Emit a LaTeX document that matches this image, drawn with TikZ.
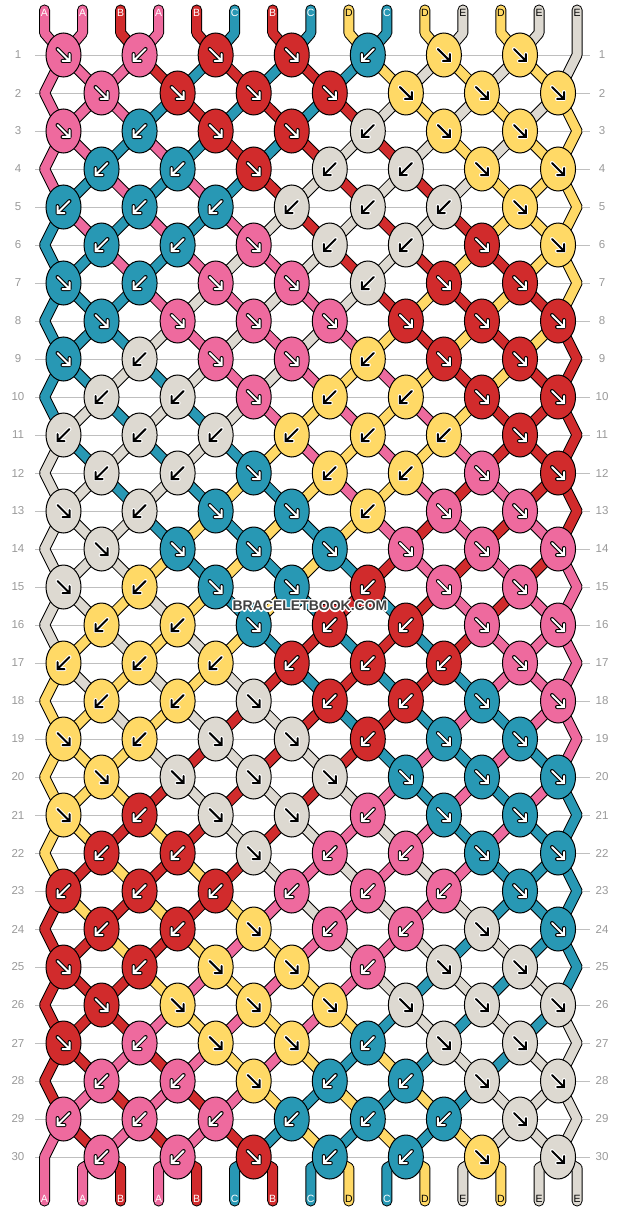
\documentclass[tikz,border=0pt]{standalone}
\usepackage{fontspec}
\setmainfont{Liberation Sans}
\usetikzlibrary{shapes.geometric}

\definecolor{colA}{HTML}{EE6A9E}
\definecolor{colB}{HTML}{D12B2C}
\definecolor{colC}{HTML}{2898B4}
\definecolor{colD}{HTML}{FFD966}
\definecolor{colE}{HTML}{DDD9D1}
\colorlet{arA}{white}
\colorlet{arB}{white}
\colorlet{arC}{white}
\colorlet{arD}{black}
\colorlet{arE}{black}
\colorlet{olA}{black}
\colorlet{olB}{black}
\colorlet{olC}{black}
\colorlet{olD}{white}
\colorlet{olE}{white}
\colorlet{txA}{white}
\colorlet{txB}{white}
\colorlet{txC}{white}
\colorlet{txD}{black}
\colorlet{txE}{black}

\pgfdeclarelayer{grid}
\pgfdeclarelayer{outline}
\pgfdeclarelayer{band}
\pgfsetlayers{grid,outline,band,main}

\gdef\outlinepath{}
\gdef\bandA{}
\gdef\bandB{}
\gdef\bandC{}
\gdef\bandD{}
\gdef\bandE{}

\newcommand{\strandseg}[3]{%
	\xdef\outlinepath{\outlinepath (#1.center) -- (#2.center)}%
	\expandafter\xdef\csname band#3\endcsname{\csname band#3\endcsname (#1.center) -- (#2.center)}}

\newcommand{\knotarrow}[3]{%
	\if#2f
		\def\arrowpath{(-6,-6) -- (6,6) (6,-1) -- (6,6) -- (-1,6)}%
	\else
		\def\arrowpath{(6,-6) -- (-6,6) (-6,-1) -- (-6,6) -- (1,6)}%
	\fi
	\draw[shift={(#1)},color=ol#3,line width=4pt,line cap=round,line join=round] \arrowpath;
	\draw[shift={(#1)},color=ar#3,line width=2pt,line cap=round,line join=miter] \arrowpath;}

\begin{document}
\begin{tikzpicture}[x=1pt,y=-1pt,
	knot/.style={ellipse,draw,line width=1pt,minimum width=35pt,minimum height=44pt,inner sep=0pt},
	rownum/.style={text=black!40,font=\fontsize{11.5}{12}\selectfont},
	tag/.style={inner sep=0pt,font=\fontsize{10.5}{11}\selectfont},
	watermark/.style={inner sep=0pt,font=\bfseries\fontsize{14}{14}\selectfont}]

	\def\xs{38.04}
	\useasboundingbox (0,0) rectangle (620,1212);

	\begin{pgfonlayer}{grid}
		\foreach \row in {1,...,30}
			\draw[black!25] (35,{55+38*(\row-1)}) -- (590,{55+38*(\row-1)});
	\end{pgfonlayer}
	\foreach \row in {1,...,30}{
		\pgfmathsetmacro\yy{55+38*(\row-1)}
		\node[rownum] (nl\row) at (18,\yy) {\row};
		\node[rownum] (nr\row) at (602,\yy) {\row};
	}

	\foreach \lt [count=\pos from 0] in {A,A,B,A,B,C,B,C,D,C,D,E,D,E,E}{
		\pgfmathsetmacro\xx{44.5+\xs*\pos}
		\expandafter\xdef\csname s\pos\endcsname{\lt}
		\expandafter\xdef\csname n\pos\endcsname{u\pos}
		\coordinate (t\pos) at (\xx,10);
		\coordinate (u\pos) at (\xx,33);
		\strandseg{t\pos}{u\pos}{\lt}
		\node[tag,text=tx\lt] (lt\pos) at (\xx,12.5) {\lt};
	}

	\foreach \blk in {0,...,4}{
		\foreach \dirs [count=\jj] in {{f,b,f,f,b,f,f},{f,f,f,f,f,f,f},{f,b,f,f,b,f,f},{b,b,f,b,b,f,f},{b,b,b,b,b,b,f},{b,b,f,b,b,f,f}}{
			\pgfmathtruncatemacro\row{6*\blk+\jj}
			\pgfmathtruncatemacro\rowodd{mod(\row,2)}
			\pgfmathsetmacro\yy{55+38*(\row-1)}
			\ifnum\rowodd=1 \def\ep{14}\else\def\ep{0}\fi
			\pgfmathsetmacro\xx{44.5+\xs*\ep}
			\edef\fromE{\csname n\ep\endcsname}
			\edef\colE{\csname s\ep\endcsname}
			\coordinate (e\row) at (\xx,\yy);
			\strandseg{\fromE}{e\row}{\colE}
			\expandafter\xdef\csname n\ep\endcsname{e\row}
			\foreach \dir [count=\kn from 0] in \dirs{
				\pgfmathtruncatemacro\lpos{2*\kn+1-\rowodd}
				\pgfmathtruncatemacro\rpos{\lpos+1}
				\pgfmathsetmacro\xx{63.5+\xs*\lpos}
				\edef\colL{\csname s\lpos\endcsname}
				\edef\colR{\csname s\rpos\endcsname}
				\edef\fromL{\csname n\lpos\endcsname}
				\edef\fromR{\csname n\rpos\endcsname}
				\if\dir f\edef\kc{\colL}\else\edef\kc{\colR}\fi
				\node[knot,fill=col\kc] (k\row-\kn) at (\xx,\yy) {};
				\knotarrow{k\row-\kn}{\dir}{\kc}
				\strandseg{\fromL}{k\row-\kn}{\colL}
				\strandseg{\fromR}{k\row-\kn}{\colR}
				\expandafter\xdef\csname s\lpos\endcsname{\colR}
				\expandafter\xdef\csname s\rpos\endcsname{\colL}
				\expandafter\xdef\csname n\lpos\endcsname{k\row-\kn}
				\expandafter\xdef\csname n\rpos\endcsname{k\row-\kn}
			}
		}
	}

	\foreach \pos in {0,...,14}{
		\pgfmathsetmacro\xx{44.5+\xs*\pos}
		\edef\scol{\csname s\pos\endcsname}
		\edef\fromP{\csname n\pos\endcsname}
		\coordinate (v\pos) at (\xx,1168);
		\coordinate (w\pos) at (\xx,1201);
		\strandseg{\fromP}{v\pos}{\scol}
		\strandseg{v\pos}{w\pos}{\scol}
		\node[tag,text=tx\scol] (lb\pos) at (\xx,1199) {\scol};
	}

	\begin{pgfonlayer}{outline}
		\draw[line width=11pt,line cap=round,line join=round] \outlinepath;
	\end{pgfonlayer}
	\begin{pgfonlayer}{band}
		\draw[colA,line width=9pt,line cap=round,line join=round] \bandA;
		\draw[colB,line width=9pt,line cap=round,line join=round] \bandB;
		\draw[colC,line width=9pt,line cap=round,line join=round] \bandC;
		\draw[colD,line width=9pt,line cap=round,line join=round] \bandD;
		\draw[colE,line width=9pt,line cap=round,line join=round] \bandE;
	\end{pgfonlayer}

	\foreach \dx/\dy [count=\h] in {-1.3/0,1.3/0,0/-1.3,0/1.3,-1/-1,1/-1,-1/1,1/1}
		\node[watermark,text=white] (halo\h) at (310+\dx,606+\dy) {BRACELETBOOK.COM};
	\node[watermark,text=black!75] (wm) at (310,606) {BRACELETBOOK.COM};

\end{tikzpicture}
\end{document}
